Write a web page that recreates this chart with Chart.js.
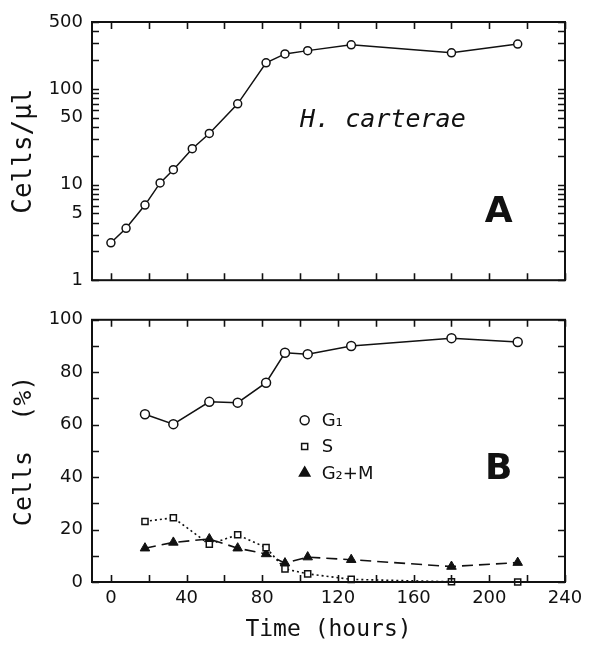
<!DOCTYPE html>
<html>
<head>
<meta charset="utf-8">
<script src="https://cdn.jsdelivr.net/npm/chart.js@4/dist/chart.umd.min.js"></script>
<style>
  html, body { margin: 0; padding: 0; background: #fff; }
  #page { position: relative; width: 589px; height: 646px; }
  #top, #bottom { position: absolute; left: 0; }
  #top { top: 0; }
  #bottom { top: 300px; }
</style>
</head>
<body>
<div id="page">
  <canvas id="top" width="589" height="300"></canvas>
  <canvas id="bottom" width="589" height="346"></canvas>
</div>
<script>
const INK = "#111";
const SANS = "'DejaVu Sans', sans-serif";
const MONO = "'DejaVu Sans Mono', monospace";

// panel A: cell density (log scale)
const GROWTH_TIMES = [0, 8, 18, 26, 33, 43, 52, 67, 82, 92, 104, 127, 180, 215];
const CELLS_PER_UL = [2.46, 3.49, 6.1, 10.4, 14.3, 23.7, 34.2, 69.7, 187, 232, 251, 289, 238, 294];

// panel B: cell cycle phases (%)
const PHASE_TIMES = [18, 33, 52, 67, 82, 92, 104, 127, 180, 215];
const G1_PCT = [64.0, 60.2, 68.7, 68.4, 76.0, 87.4, 86.9, 90.0, 93.0, 91.5];
const S_PCT = [23.1, 24.5, 14.4, 18.0, 13.1, 5.0, 3.1, 1.0, 0.1, 0];
const G2M_PCT = [12.9, 15.1, 16.4, 12.9, 10.7, 7.2, 9.5, 8.5, 5.9, 7.4];

// ticks
const X_TICKS = [0, 20, 40, 60, 80, 100, 120, 140, 160, 180, 200, 220, 240];
const X_LABELS = [0, 40, 80, 120, 160, 200, 240];
const LOG_TICKS = [1, 2, 3, 4, 5, 6, 7, 8, 9, 10, 20, 30, 40, 50, 60, 70, 80, 90, 100, 200, 300, 400, 500];
const LOG_LABELS = [1, 5, 10, 50, 100, 500];
const PCT_TICKS = [0, 10, 20, 30, 40, 50, 60, 70, 80, 90, 100];
const PCT_LABELS = [0, 20, 40, 60, 80, 100];

const TICK_LEN = 7;

function pts(xs, ys) {
  return xs.map((x, i) => ({ x, y: ys[i] }));
}

function setTicks(list) {
  return (scale) => { scale.ticks = list.map((v) => ({ value: v })); };
}

function drawMarker(ctx, style, x, y, r, filled) {
  ctx.beginPath();
  if (style === "circle") {
    ctx.arc(x, y, r, 0, Math.PI * 2);
  } else if (style === "rect") {
    const s = r * Math.SQRT1_2;
    ctx.rect(x - s, y - s, 2 * s, 2 * s);
  } else {
    const h = r * 1.5, w = r * Math.sqrt(3) / 2;
    ctx.moveTo(x, y - r);
    ctx.lineTo(x + w, y + r / 2);
    ctx.lineTo(x - w, y + r / 2);
    ctx.closePath();
  }
  if (filled) ctx.fill();
  ctx.stroke();
}

// box with inward ticks on all four sides, plus notes and legend
const frame = {
  id: "frame",
  afterDatasetsDraw(chart, args, opts) {
    const { ctx, chartArea: a, scales } = chart;
    ctx.save();
    ctx.strokeStyle = INK;
    ctx.fillStyle = INK;
    ctx.lineWidth = 1.6;
    ctx.beginPath();
    scales.x.ticks.forEach((t) => {
      const px = Math.round(scales.x.getPixelForValue(t.value)) + 0.5;
      ctx.moveTo(px, a.bottom); ctx.lineTo(px, a.bottom - TICK_LEN);
      ctx.moveTo(px, a.top); ctx.lineTo(px, a.top + TICK_LEN);
    });
    scales.y.ticks.forEach((t) => {
      const py = Math.round(scales.y.getPixelForValue(t.value)) + 0.5;
      ctx.moveTo(a.left, py); ctx.lineTo(a.left + TICK_LEN, py);
      ctx.moveTo(a.right, py); ctx.lineTo(a.right - TICK_LEN, py);
    });
    ctx.stroke();
    ctx.lineWidth = 2;
    ctx.strokeRect(a.left, a.top, a.right - a.left, a.bottom - a.top);

    (opts.notes || []).forEach((n) => {
      ctx.font = n.font;
      ctx.textAlign = n.align || "left";
      ctx.textBaseline = "middle";
      ctx.fillText(n.text, scales.x.getPixelForValue(n.x), scales.y.getPixelForValue(n.y));
    });

    (opts.legend || []).forEach((l) => {
      const px = scales.x.getPixelForValue(l.x);
      const py = scales.y.getPixelForValue(l.y);
      ctx.lineWidth = 1.5;
      drawMarker(ctx, l.style, px, py, l.r, l.filled);
      ctx.font = "18px " + SANS;
      ctx.textAlign = "left";
      ctx.textBaseline = "middle";
      ctx.fillText(l.text, px + 17, py + 1);
    });
    ctx.restore();
  },
};

const xScale = (showLabels, height) => ({
  type: "linear",
  min: -10,
  max: 240,
  afterBuildTicks: setTicks(X_TICKS),
  afterFit: (s) => { s.height = height; },
  grid: { display: false, drawTicks: false },
  border: { display: false },
  ticks: {
    display: showLabels,
    autoSkip: false,
    maxRotation: 0,
    padding: 6,
    color: INK,
    font: { family: SANS, size: 18 },
    callback: (v) => (X_LABELS.includes(v) ? String(v) : ""),
  },
  title: {
    display: showLabels,
    text: "Time (hours)",
    color: INK,
    font: { family: MONO, size: 23 },
    padding: { top: 0, bottom: 2 },
  },
});

const yTicks = (labels) => ({
  autoSkip: false,
  padding: 9,
  color: INK,
  font: { family: SANS, size: 18 },
  callback: (v) => (labels.includes(v) ? String(v) : ""),
});

const growthPoint = { radius: 4, borderWidth: 1.5 };

new Chart(document.getElementById("top"), {
  type: "line",
  data: {
    datasets: [
      {
        label: "Cells/µl",
        data: pts(GROWTH_TIMES, CELLS_PER_UL),
        borderColor: INK,
        borderWidth: 1.5,
        pointStyle: "circle",
        pointRadius: growthPoint.radius,
        pointBorderWidth: growthPoint.borderWidth,
        pointBackgroundColor: "#fff",
        pointBorderColor: INK,
        tension: 0,
        clip: false,
      },
    ],
  },
  options: {
    responsive: false,
    animation: false,
    layout: { padding: { top: 22, right: 24, left: 0, bottom: 0 } },
    plugins: {
      legend: { display: false },
      tooltip: { enabled: false },
      frame: {
        notes: [
          { text: "H. carterae", x: 100, y: 47, font: "italic 25px " + MONO },
          { text: "A", x: 205, y: 5.1, font: "bold 36px " + SANS, align: "center" },
        ],
      },
    },
    scales: {
      x: xScale(false, 15),
      y: {
        type: "logarithmic",
        min: 1,
        max: 500,
        afterBuildTicks: setTicks(LOG_TICKS),
        afterFit: (s) => { s.width = 92; },
        grid: { display: false, drawTicks: false },
        border: { display: false },
        ticks: yTicks(LOG_LABELS),
        title: {
          display: true,
          text: "Cells/µl",
          color: INK,
          font: { family: MONO, size: 26 },
          padding: { top: 9, bottom: 0 },
        },
      },
    },
  },
  plugins: [frame],
});

new Chart(document.getElementById("bottom"), {
  type: "line",
  data: {
    datasets: [
      {
        label: "G₁",
        data: pts(PHASE_TIMES, G1_PCT),
        borderColor: INK,
        borderWidth: 1.5,
        pointStyle: "circle",
        pointRadius: 4.5,
        pointBorderWidth: 1.5,
        pointBackgroundColor: "#fff",
        pointBorderColor: INK,
        tension: 0,
        clip: false,
      },
      {
        label: "S",
        data: pts(PHASE_TIMES, S_PCT),
        borderColor: INK,
        borderWidth: 1.6,
        borderDash: [2, 3],
        pointStyle: "rect",
        pointRadius: 4.3,
        pointBorderWidth: 1.5,
        pointBackgroundColor: "#fff",
        pointBorderColor: INK,
        tension: 0,
        clip: false,
      },
      {
        label: "G₂+M",
        data: pts(PHASE_TIMES, G2M_PCT),
        borderColor: INK,
        borderWidth: 1.6,
        borderDash: [11, 6],
        pointStyle: "triangle",
        pointRadius: 5.5,
        pointBorderWidth: 1,
        pointBackgroundColor: INK,
        pointBorderColor: INK,
        tension: 0,
        clip: false,
      },
    ],
  },
  options: {
    responsive: false,
    animation: false,
    layout: { padding: { top: 13, right: 24, left: 0, bottom: 0 } },
    plugins: {
      legend: { display: false },
      tooltip: { enabled: false },
      frame: {
        notes: [
          { text: "B", x: 205, y: 42.8, font: "bold 36px " + SANS, align: "center" },
        ],
        legend: [
          { text: "G₁", style: "circle", r: 4.5, filled: false, x: 102.4, y: 61.7 },
          { text: "S", style: "rect", r: 4.3, filled: false, x: 102.4, y: 51.7 },
          { text: "G₂+M", style: "triangle", r: 6, filled: true, x: 102.4, y: 41.6 },
        ],
      },
    },
    scales: {
      x: xScale(true, 64),
      y: {
        type: "linear",
        min: 0,
        max: 100,
        afterBuildTicks: setTicks(PCT_TICKS),
        afterFit: (s) => { s.width = 92; },
        grid: { display: false, drawTicks: false },
        border: { display: false },
        ticks: yTicks(PCT_LABELS),
        title: {
          display: true,
          text: "Cells  (%)",
          color: INK,
          font: { family: MONO, size: 25 },
          padding: { top: 9, bottom: 0 },
        },
      },
    },
  },
  plugins: [frame],
});
</script>
</body>
</html>
